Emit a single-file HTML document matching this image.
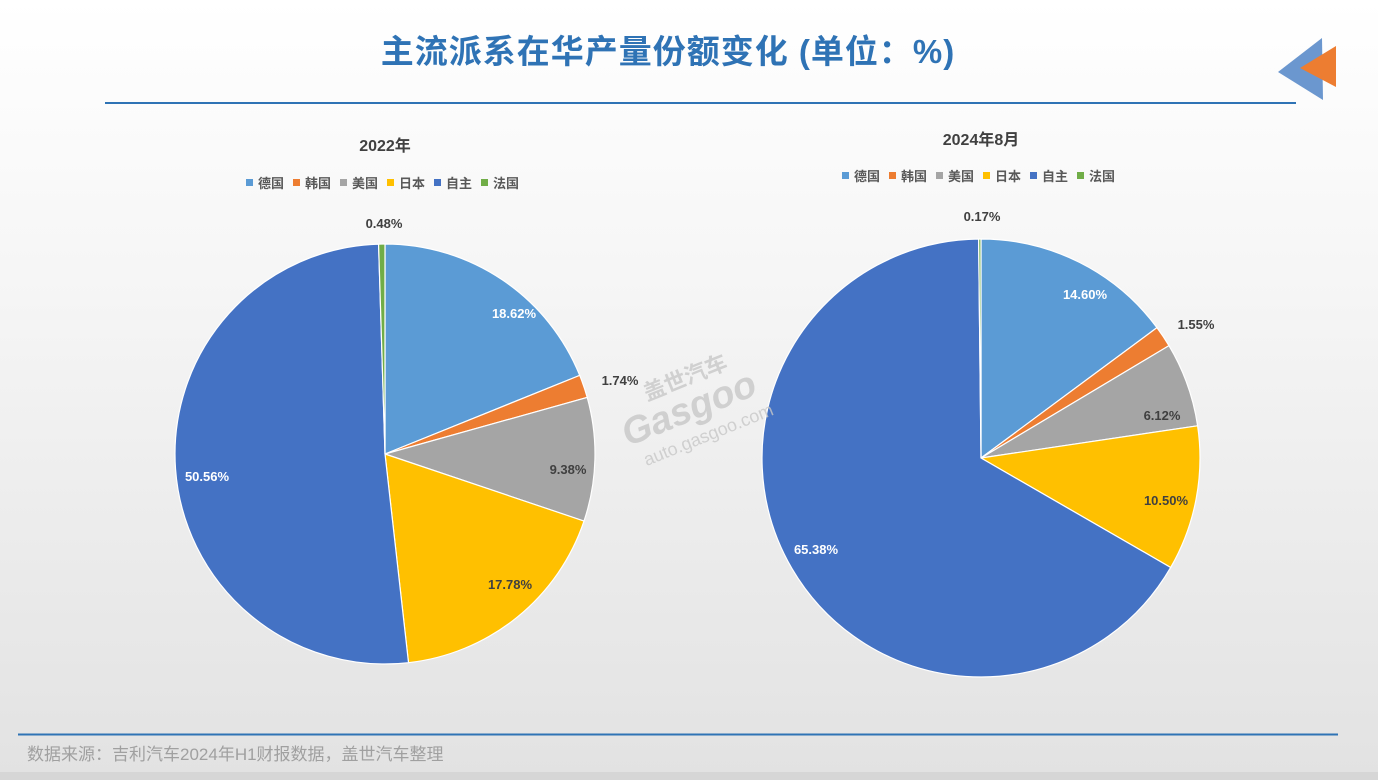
<!DOCTYPE html>
<html><head><meta charset="utf-8"><style>
html,body{margin:0;padding:0}
body{width:1378px;height:780px;overflow:hidden;background:linear-gradient(#ffffff 0%,#f6f6f6 35%,#e2e2e2 100%);font-family:"Liberation Sans","Noto Sans CJK SC",sans-serif;position:relative}
</style></head><body>
<svg width="1378" height="780" style="position:absolute;left:0;top:0" font-family="Liberation Sans, Noto Sans CJK SC, sans-serif">
<rect x="0" y="772" width="1378" height="8" fill="#d6d6d6"/>
<text x="668" y="63" text-anchor="middle" font-size="33" font-weight="bold" fill="#2f73b5" letter-spacing="1">主流派系在华产量份额变化 (单位：%)</text>
<line x1="105" y1="103" x2="1296" y2="103" stroke="#2f73b5" stroke-width="2"/>
<line x1="18" y1="734.5" x2="1338" y2="734.5" stroke="#2f73b5" stroke-width="2"/>
<text x="27" y="760" font-size="17" fill="#a0a0a0">数据来源：吉利汽车2024年H1财报数据，盖世汽车整理</text>
<polygon points="1278,72 1322,38 1323,100" fill="#6b97cf"/>
<polygon points="1300,68 1336,46 1336,87" fill="#ed7d31"/>
<g id="p1"></g><g id="p2"></g>
<text x="385" y="151" text-anchor="middle" font-size="16" font-weight="bold" fill="#404040">2022年</text>
<text x="981" y="145" text-anchor="middle" font-size="16" font-weight="bold" fill="#404040">2024年8月</text>
<g font-size="13" fill="#595959" font-weight="bold">
<g id="lg1" transform="translate(246,188)"></g>
<g id="lg2" transform="translate(842,181)"></g>
</g>
<g font-size="13" font-weight="bold">
<text x="514" y="318" text-anchor="middle" fill="#fff">18.62%</text>
<text x="620" y="385" text-anchor="middle" fill="#404040">1.74%</text>
<text x="568" y="474" text-anchor="middle" fill="#404040">9.38%</text>
<text x="510" y="589" text-anchor="middle" fill="#404040">17.78%</text>
<text x="207" y="481" text-anchor="middle" fill="#fff">50.56%</text>
<text x="384" y="228" text-anchor="middle" fill="#404040">0.48%</text>
<text x="1085" y="299" text-anchor="middle" fill="#fff">14.60%</text>
<text x="1196" y="329" text-anchor="middle" fill="#404040">1.55%</text>
<text x="1162" y="420" text-anchor="middle" fill="#404040">6.12%</text>
<text x="1166" y="505" text-anchor="middle" fill="#404040">10.50%</text>
<text x="816" y="554" text-anchor="middle" fill="#fff">65.38%</text>
<text x="982" y="221" text-anchor="middle" fill="#404040">0.17%</text>
</g>
<g fill="#c8c8c8" opacity="0.8" transform="rotate(-22 690 400)">
<text x="650" y="385" font-size="22" font-weight="bold">盖世汽车</text>
<text x="615" y="420" font-size="38" font-style="italic" font-weight="bold">Gasgoo</text>
<text x="625" y="445" font-size="18">auto.gasgoo.com</text>
</g>
</svg>
<script>
var cols=["#5b9bd5","#ed7d31","#a5a5a5","#ffc000","#4472c4","#70ad47"];
var names=["德国","韩国","美国","日本","自主","法国"];
function pie(id,cx,cy,r,v){var t=v.reduce((a,b)=>a+b,0),a=0,s="";
v.forEach(function(x,i){var a2=a+x/t*2*Math.PI;
var p=(q)=>[cx+r*Math.sin(q),cy-r*Math.cos(q)];var s1=p(a),s2=p(a2);
s+='<path d="M'+cx+','+cy+'L'+s1[0]+','+s1[1]+'A'+r+','+r+' 0 '+(a2-a>Math.PI?1:0)+' 1 '+s2[0]+','+s2[1]+'Z" fill="'+cols[i]+'" stroke="#fff" stroke-width="1.2"/>';a=a2;});
document.getElementById(id).innerHTML=s;}
pie("p1",385,454,210,[18.62,1.74,9.38,17.78,50.56,0.48]);
pie("p2",981,458,219,[14.60,1.55,6.12,10.50,65.38,0.17]);
function lg(id){var s="",x=0;names.forEach(function(n,i){s+='<rect x="'+x+'" y="-9" width="7" height="7" fill="'+cols[i]+'"/><text x="'+(x+12)+'" y="0">'+n+'</text>';x+=47;});document.getElementById(id).innerHTML=s;}
lg("lg1");lg("lg2");
</script>
</body></html>
